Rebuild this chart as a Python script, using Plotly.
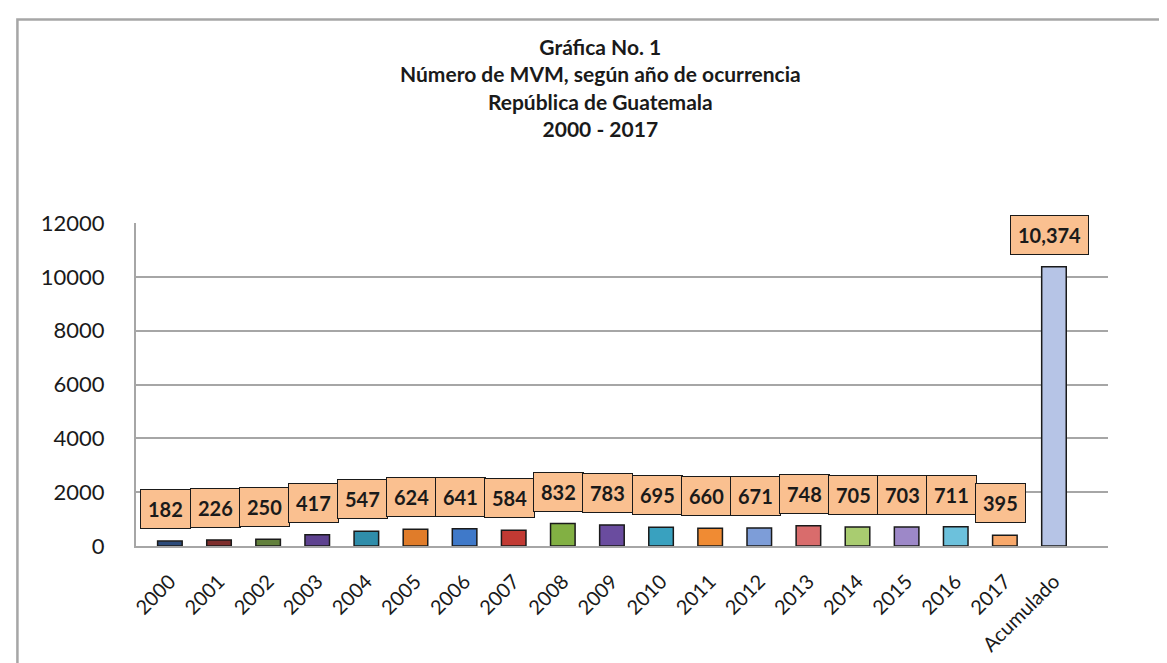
import plotly.graph_objects as go

categories = ["2000", "2001", "2002", "2003", "2004", "2005", "2006", "2007", "2008",
              "2009", "2010", "2011", "2012", "2013", "2014", "2015", "2016", "2017",
              "Acumulado"]
values = [182, 226, 250, 417, 547, 624, 641, 584, 832, 783, 695, 660, 671, 748,
          705, 703, 711, 395, 10374]
bar_colors = ["#2B4A7A", "#7E2E2C", "#62803C", "#5E4290", "#2F8DAA", "#E07C2A",
              "#3F79C9", "#C23A33", "#82B043", "#6A4C9F", "#39A1BF", "#F08B33",
              "#7D9DD8", "#D96C6C", "#A9CC70", "#9D88C8", "#6CC1DC", "#F8A86A",
              "#B6C4E6"]
title_lines = ["Gráfica No. 1", "Número de MVM, según año de ocurrencia",
               "República de Guatemala", "2000 - 2017"]
y_ticks = [0, 2000, 4000, 6000, 8000, 10000, 12000]

FONT = "Lato"

fig = go.Figure()
fig.add_trace(go.Bar(
    x=categories, y=values, width=0.5,
    marker=dict(color=bar_colors, line=dict(color="#1A1A1A", width=1.5)),
    hoverinfo="x+y",
))

for i, v in enumerate(values):
    txt = "{:,}".format(v) if v >= 10000 else str(v)
    fig.add_annotation(
        x=i, y=v, xref="x", yref="y", text="<b>%s</b>" % txt,
        showarrow=False, yanchor="bottom", yshift=12, xshift=-4,
        bgcolor="#FAC090", bordercolor="#1A1A1A", borderwidth=1, borderpad=7,
        font=dict(family=FONT, size=20, color="#1A1A1A"),
    )

fig.add_annotation(
    x=0.5, y=1, xref="paper", yref="paper", xanchor="center", yanchor="bottom",
    text="<br>".join("<b>%s</b>" % t for t in title_lines), showarrow=False,
    font=dict(family=FONT, size=21, color="#1A1A1A"), yshift=80, xshift=-22,
    align="center",
)

# outer chart border
fig.add_shape(type="rect", xref="paper", yref="paper", x0=-0.122, x1=1.2, y0=-0.5, y1=1.63,
              line=dict(color="#A6A6A6", width=2.5), layer="below")

fig.update_layout(
    width=1167, height=663,
    margin=dict(l=128, r=67, t=215, b=125),
    paper_bgcolor="white", plot_bgcolor="white",
    showlegend=False,
    bargap=0.5,
    font=dict(family=FONT, color="#1A1A1A"),
    xaxis=dict(
        type="category", range=[-0.69, 19.1], tickangle=-45,
        tickfont=dict(family=FONT, size=20, color="#1A1A1A"),
        showgrid=False, showline=True, linecolor="#A6A6A6", linewidth=2,
        ticks="", ticklabelstandoff=14,
    ),
    yaxis=dict(
        range=[0, 12000], tickvals=y_ticks, ticktext=[str(t) for t in y_ticks],
        tickfont=dict(family=FONT, size=22, color="#1A1A1A"),
        showgrid=True, gridcolor="#A6A6A6", gridwidth=2,
        showline=True, linecolor="#A6A6A6", linewidth=2, ticks="",
        ticklabelstandoff=25, zeroline=False,
    ),
)

fig.write_html("out.html")
